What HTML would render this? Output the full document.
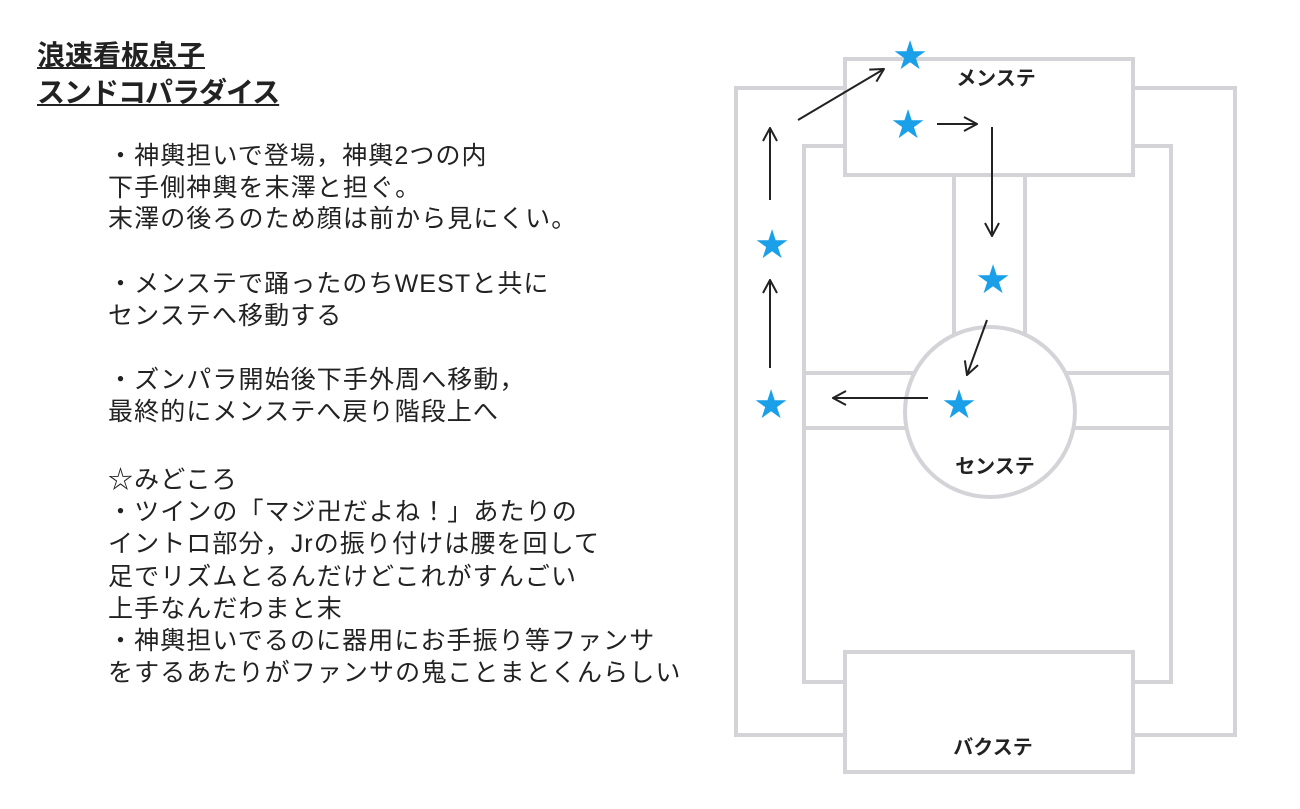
<!DOCTYPE html>
<html><head><meta charset="utf-8"><style>
body{margin:0;width:1300px;height:809px;background:#fff;position:relative;overflow:hidden;font-family:"Liberation Sans","Noto Sans CJK JP",sans-serif;color:#222}
.t{position:absolute;left:37px;font-size:28px;font-weight:bold;text-decoration:underline;line-height:37px;top:37px;letter-spacing:-1px}
.b{position:absolute;left:108px;font-size:25px;line-height:31.5px;letter-spacing:1.1px;white-space:nowrap}
</style></head><body>
<div class="t"><span style="letter-spacing:0">浪速看板息子</span><br>スンドコパラダイス</div>
<div class="b" style="top:141px">・神輿担いで登場，神輿2つの内<br>下手側神輿を末澤と担ぐ。<br>末澤の後ろのため顔は前から見にくい。</div>
<div class="b" style="top:269px">・メンステで踊ったのちWESTと共に<br>センステへ移動する</div>
<div class="b" style="top:365px">・ズンパラ開始後下手外周へ移動，<br>最終的にメンステへ戻り階段上へ</div>
<div class="b" style="top:464px;line-height:32.2px">☆みどころ<br>・ツインの「マジ卍だよね！」あたりの<br>イントロ部分，Jrの振り付けは腰を回して<br>足でリズムとるんだけどこれがすんごい<br>上手なんだわまと末<br>・神輿担いでるのに器用にお手振り等ファンサ<br>をするあたりがファンサの鬼ことまとくんらしい</div>
<svg width="1300" height="809" style="position:absolute;left:0;top:0">
<defs><marker id="a" markerWidth="16" markerHeight="16" refX="15" refY="8" orient="auto" markerUnits="userSpaceOnUse"><path d="M2,1 L15,8 L2,15" fill="none" stroke="#222" stroke-width="2"/></marker></defs>
<g fill="none" stroke="#d4d4d8" stroke-width="4">
<rect x="736" y="88" width="499" height="647"/>
<rect x="804" y="146" width="367" height="536" fill="#fff"/>
<line x1="804" y1="373" x2="1171" y2="373"/>
<line x1="804" y1="428" x2="1171" y2="428"/>
<rect x="954" y="175" width="71" height="160" fill="#fff"/>
<circle cx="990" cy="412" r="85" fill="#fff"/>
<rect x="845" y="59" width="288" height="116" fill="#fff"/>
<rect x="845" y="652" width="288" height="120" fill="#fff"/>
</g>
<g font-weight="bold" font-size="20" fill="#222" text-anchor="middle" font-family="Liberation Sans,Noto Sans CJK JP,sans-serif">
<text x="996" y="85">メンステ</text>
<text x="995" y="473">センステ</text>
<text x="993" y="754">バクステ</text>
</g>
<g stroke="#222" stroke-width="2" marker-end="url(#a)">
<line x1="798" y1="120" x2="884" y2="69"/>
<line x1="937" y1="124" x2="977" y2="124"/>
<line x1="992" y1="127" x2="992" y2="236"/>
<line x1="770" y1="200" x2="770" y2="128"/>
<line x1="770" y1="368" x2="770" y2="280"/>
<line x1="987" y1="320" x2="967" y2="375"/>
<line x1="928" y1="398" x2="833" y2="398"/>
</g>
<g fill="#1aa0e8" font-size="40" text-anchor="middle" font-family="DejaVu Sans,sans-serif">
<text x="910" y="69">★</text>
<text x="908" y="138">★</text>
<text x="772" y="258">★</text>
<text x="993" y="293">★</text>
<text x="771" y="418">★</text>
<text x="959" y="418">★</text>
</g>
</svg>
</body></html>
